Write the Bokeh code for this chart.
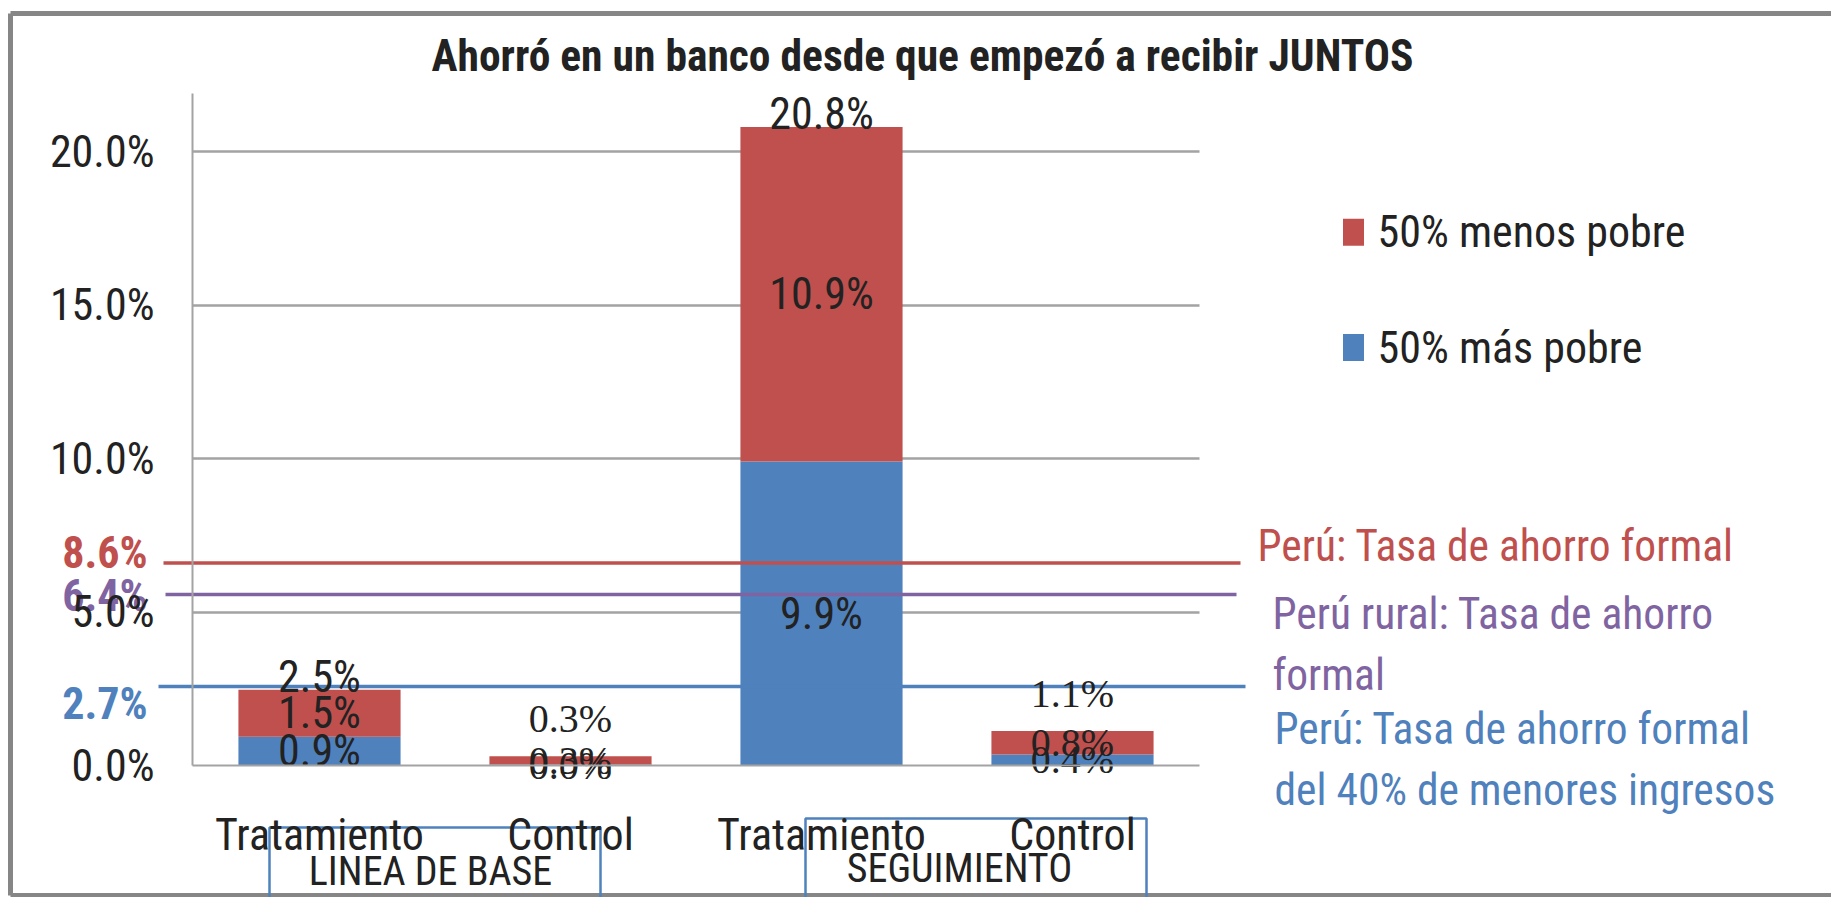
from bokeh.plotting import figure
from bokeh.models import ColumnDataSource, Range1d, FixedTicker, PrintfTickFormatter
from bokeh.core.properties import value
from bokeh.embed import file_html
from bokeh.resources import INLINE

# ---------------- data ----------------
title_text = "Ahorró en un banco desde que empezó a recibir JUNTOS"
categories = ["Tratamiento", "Control", "Tratamiento", "Control"]
groups = ["LINEA DE BASE", "SEGUIMIENTO"]
series_names = ["50% menos pobre", "50% más pobre"]
mas_pobre = [0.94, 0.03, 9.9, 0.36]      # blue (bottom segment)
menos_pobre = [1.53, 0.27, 10.9, 0.76]   # red (top segment)
y_ticks = [0, 5, 10, 15, 20]
ref_values = [8.6, 6.4, 2.7]
ref_line_level = [6.6, 5.57, 2.57]       # where the lines sit on the axis scale in the picture
ref_texts = [["Perú: Tasa de ahorro formal"],
             ["Perú rural: Tasa de ahorro", "formal"],
             ["Perú: Tasa de ahorro formal", "del 40% de menores ingresos"]]

# ---------------- style / layout ----------------
RED, BLUE, PURPLE = "#C0504D", "#4F81BD", "#8064A2"
REF_COLORS = [RED, PURPLE, BLUE]
TXT = "#222222"
GRID = "#a3a3a3"
FONT = "Roboto Condensed, Roboto"
SERIF = "Liberation Serif"
FS = "44px"

W, H = 1831, 897
PAGE = 0
X0, XS = 319.0, 251.0      # page px of first category centre, px per category
Y0, YS = 765.0, 30.7       # page px of 0 %, px per 1 %


def px(xp):
    return (xp - X0) / XS


def py(yp):
    return (Y0 - yp) / YS


p = figure(width=W, height=H, output_backend="svg", toolbar_location=None,
           title=None, min_border=0,
           x_range=Range1d(px(PAGE), px(PAGE + W)),
           y_range=Range1d(py(PAGE + H), py(PAGE)))
p.outline_line_color = None
p.background_fill_color = "white"
p.border_fill_color = "white"

# axes
xa = p.xaxis[0]
xa.fixed_location = 0
xa.bounds = (px(192), px(1199))
xa.ticker = FixedTicker(ticks=list(range(len(categories))))
xa.major_label_overrides = {i: c for i, c in enumerate(categories)}
xa.axis_line_color = GRID
xa.axis_line_width = 2
xa.major_tick_line_color = None
xa.minor_tick_line_color = None
xa.major_tick_out = 0
xa.major_tick_in = 0
xa.major_label_standoff = 43
xa.major_label_text_font = FONT
xa.major_label_text_font_size = FS
xa.major_label_text_color = TXT

ya = p.yaxis[0]
ya.fixed_location = px(192)
ya.bounds = (0, py(93))
ya.ticker = FixedTicker(ticks=y_ticks)
ya.formatter = PrintfTickFormatter(format="%.1f%%")
ya.axis_line_color = GRID
ya.axis_line_width = 2
ya.major_tick_line_color = None
ya.minor_tick_line_color = None
ya.major_tick_out = 0
ya.major_tick_in = 0
ya.major_label_standoff = 38
ya.major_label_text_font = FONT
ya.major_label_text_font_size = FS
ya.major_label_text_color = TXT

p.xgrid.visible = False
p.ygrid.ticker = FixedTicker(ticks=[t for t in y_ticks if t > 0])
p.ygrid.cross_bounds = (px(192), px(1199))
p.ygrid.grid_line_color = GRID
p.ygrid.grid_line_width = 2.5

# chart border (top, left and bottom edges visible)
p.segment(x0=[px(10), px(10), px(10)], y0=[py(13), py(13), py(895)],
          x1=[px(1840), px(10), px(1840)], y1=[py(13), py(895), py(895)],
          line_color="#868686", line_width=5)

# stacked bars
xs = list(range(len(categories)))
totals = [b + r for b, r in zip(mas_pobre, menos_pobre)]
src = ColumnDataSource(dict(x=xs, blue=mas_pobre, red=menos_pobre, tot=totals))
p.vbar(x="x", bottom=0, top="blue", width=0.646, source=src, fill_color=BLUE, line_color=None)
p.vbar(x="x", bottom="blue", top="tot", width=0.646, source=src, fill_color=RED, line_color=None)

# reference lines
p.segment(x0=[px(163), px(165), px(158)], x1=[px(1240), px(1236), px(1245)],
          y0=ref_line_level, y1=ref_line_level, line_color=REF_COLORS, line_width=3.5)

# data labels
fonts = [FONT if c == "Tratamiento" else SERIF for c in categories]
sizes = [FS if c == "Tratamiento" else "40px" for c in categories]
seg = ColumnDataSource(dict(
    x=xs + xs,
    y=[b / 2 for b in mas_pobre] + [b + r / 2 for b, r in zip(mas_pobre, menos_pobre)],
    t=["%.1f%%" % v for v in mas_pobre] + ["%.1f%%" % v for v in menos_pobre],
    font=fonts + fonts, size=sizes + sizes))
p.text(x="x", y="y", text="t", source=seg, text_font="font", text_font_size="size",
       text_align="center", text_baseline="middle", text_color=TXT)
tot = ColumnDataSource(dict(x=xs, y=totals, t=["%.1f%%" % v for v in totals], font=fonts, size=sizes,
                            dy=[-13 if c == "Tratamiento" else -38 for c in categories]))
p.text(x="x", y="y", text="t", source=tot, text_font="font", text_font_size="size",
       text_align="center", text_baseline="middle", y_offset="dy", text_color=TXT)

# left reference value labels
p.text(x=[px(147)] * 3, y=[py(552), py(595), py(703)], text=["%.1f%%" % v for v in ref_values],
       text_color=REF_COLORS, text_font=value(FONT), text_font_size=FS, text_font_style="bold",
       text_align="right", text_baseline="middle")

# right reference descriptions
rx, ry, rt, rc = [], [], [], []
starts = [(1257, 546), (1272, 614), (1274, 729)]
for (sx, sy), lines, col in zip(starts, ref_texts, REF_COLORS):
    for k, line in enumerate(lines):
        rx.append(px(sx)); ry.append(py(sy + 61 * k)); rt.append(line); rc.append(col)
p.text(x=rx, y=ry, text=rt, text_color=rc, text_font=value(FONT), text_font_size="43.5px",
       text_align="left", text_baseline="middle")

# legend
p.rect(x=[px(1353), px(1353)], y=[py(231.7), py(347)], width=21, height=27,
       width_units="screen", height_units="screen", fill_color=[RED, BLUE], line_color=None)
p.text(x=[px(1377), px(1377)], y=[py(231), py(347)], text=series_names, text_color=TXT,
       text_font=value(FONT), text_font_size=FS, text_align="left", text_baseline="middle")

# title
p.text(x=[px(922)], y=[py(56)], text=[title_text], text_color=TXT, text_font=value(FONT),
       text_font_size="43.5px", text_font_style="bold", text_align="center", text_baseline="middle")

# group boxes and labels
p.quad(left=[px(269), px(805)], right=[px(600), px(1146)], top=[py(827), py(818)],
       bottom=[py(905), py(905)], fill_color=None, line_color=BLUE, line_width=2.5)
p.text(x=[px(430), px(959)], y=[py(871), py(868)], text=groups, text_color=TXT,
       text_font=value(FONT), text_font_size="40px", text_align="center", text_baseline="middle")

open("out.html", "w").write(file_html(p, INLINE))
